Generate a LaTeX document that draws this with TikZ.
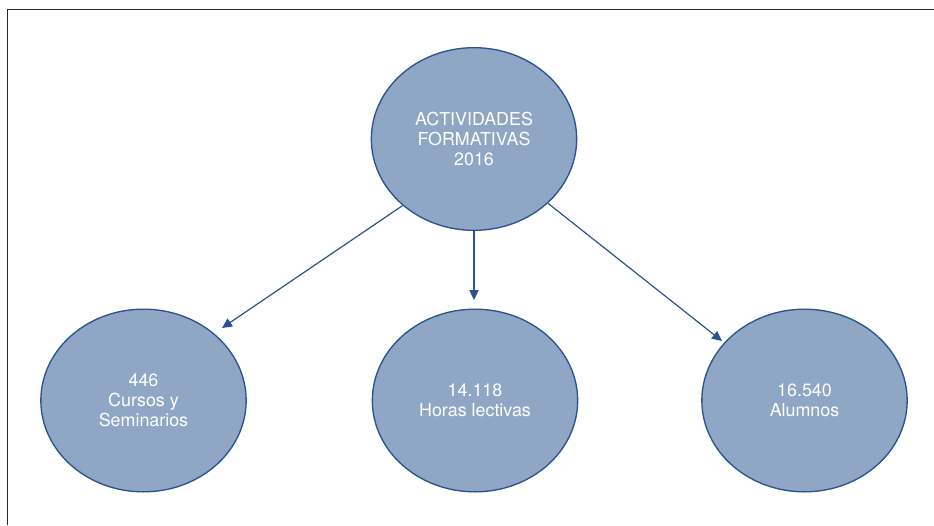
\documentclass[tikz,border=0pt]{standalone}
\usepackage{fontspec}
\setmainfont{TeX Gyre Heros}
\usetikzlibrary{shapes.geometric,arrows.meta}
\definecolor{bubblefill}{RGB}{143,166,196}
\definecolor{bubbleline}{RGB}{44,82,145}
\definecolor{framegray}{RGB}{40,40,40}
\begin{document}
\begin{tikzpicture}[x=0.75pt,y=-0.75pt,
  bubble/.style={ellipse,draw=bubbleline,line width=1pt,fill=bubblefill,
    minimum width=154pt,minimum height=137pt,inner sep=0pt},
  bubbletext/.style={text=white,align=center,
    font=\fontsize{13.4}{14.8}\selectfont},
  link/.style={draw=bubbleline,line width=0.9pt,
    -{Triangle[length=7.5pt,width=7pt]}}]
\useasboundingbox (0,0) rectangle (934,525);
% page frame: top and left rules only
\draw[framegray,line width=1.1pt] (7.5,525) -- (7.5,9.5) -- (934,9.5);

% bubbles
\node[bubble] (top) at (474,139) {};
\node[bubbletext] (toptext) at (top.center) {ACTIVIDADES\\FORMATIVAS\\2016};
\node[bubble] (cursos) at (143.5,400.5) {};
\node[bubbletext] (cursostext) at (cursos.center) {446\\Cursos y\\Seminarios};
\node[bubble] (horas) at (475,400.5) {};
\node[bubbletext] (horastext) at (horas.center) {14.118\\Horas lectivas};
\node[bubble] (alumnos) at (804.5,400.5) {};
\node[bubbletext] (alumnostext) at (alumnos.center) {16.540\\Alumnos};

% arrow tips stop short of the lower bubbles
\coordinate (tipL) at (222,328);
\coordinate (tipM) at (474,300);
\coordinate (tipR) at (722,341);
\draw[link] (top.223.4) -- (tipL);
\draw[link] (top.south) -- (tipM);
\draw[link] (top.-41.3) -- (tipR);
\end{tikzpicture}
\end{document}
